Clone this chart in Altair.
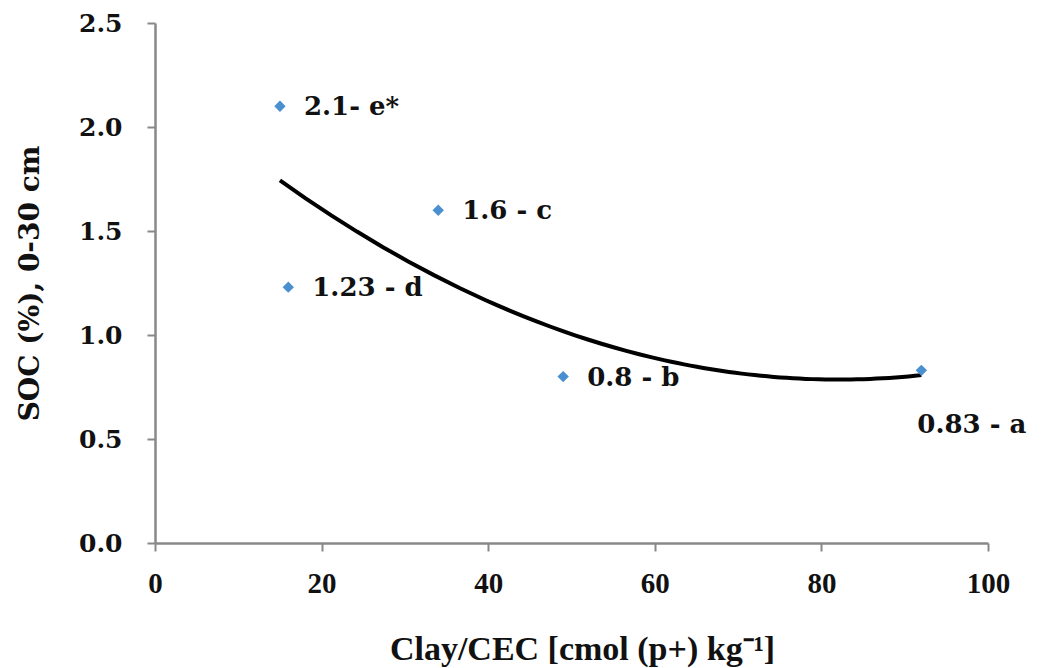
import altair as alt
import pandas as pd

clay_cec = [15, 34, 16, 49, 92]
soc = [2.1, 1.6, 1.23, 0.8, 0.83]
labels = ["2.1- e*", "1.6 - c", "1.23 - d", "0.8 - b", "0.83 - a"]
x_ticks = [0, 20, 40, 60, 80, 100]
y_ticks = [0.0, 0.5, 1.0, 1.5, 2.0, 2.5]

df = pd.DataFrame({"x": clay_cec, "y": soc, "label": labels})

serif_wide = "DejaVu Serif"
serif_tnr = "Liberation Serif"

xscale = alt.Scale(domain=[0, 100], nice=False, zero=True)
yscale = alt.Scale(domain=[0, 2.5], nice=False, zero=True)

x_enc = alt.X("x:Q", scale=xscale, axis=alt.Axis(
    values=x_ticks, grid=False, title="Clay/CEC [cmol (p+) kg⁻¹]",
    labelFont=serif_tnr, labelFontSize=29, labelFontWeight="bold", labelColor="#111",
    labelFlush=False, labelOverlap=False,
    titleFont=serif_tnr, titleFontSize=34, titleFontWeight="bold", titleColor="#111",
    titlePadding=34, titleX=427, labelPadding=18, tickSize=8, tickWidth=2, tickColor="#888",
    domainColor="#888", domainWidth=2.5, format="d"))
y_enc = alt.Y("y:Q", scale=yscale, axis=alt.Axis(
    values=y_ticks, grid=False, title="SOC  (%), 0-30 cm",
    labelFont=serif_wide, labelFontSize=25, labelFontWeight="bold", labelColor="#111",
    labelFlush=False, labelOverlap=False,
    titleFont=serif_wide, titleFontSize=28, titleFontWeight="bold", titleColor="#111",
    titlePadding=34, labelPadding=25, tickSize=8, tickWidth=2, tickColor="#888",
    domainColor="#888", domainWidth=2.5, format=".1f"))

base = alt.Chart(df)

points = base.mark_point(shape="diamond", filled=True, size=130, color="#4a90d0", opacity=1).encode(
    x=x_enc, y=y_enc)

trend = base.transform_regression("x", "y", method="poly", order=2).mark_line(
    color="#000", strokeWidth=4).encode(x="x:Q", y="y:Q")

text_main = base.transform_filter(alt.datum.label != "0.83 - a").mark_text(
    align="left", baseline="middle", dx=24, dy=1, font=serif_wide, fontSize=26,
    fontWeight="bold", color="#111").encode(x="x:Q", y="y:Q", text="label:N")

text_a = base.transform_filter(alt.datum.label == "0.83 - a").mark_text(
    align="left", baseline="middle", dx=-4, dy=55, font=serif_wide, fontSize=26,
    fontWeight="bold", color="#111").encode(x="x:Q", y="y:Q", text="label:N")

chart = alt.layer(trend, points, text_main, text_a).properties(
    width=833, height=520,
    autosize=alt.AutoSizeParams(type="none"),
    padding={"left": 155, "top": 23, "right": 67, "bottom": 125},
).configure(background="white").configure_view(stroke=None)

chart.save("out.html", embed_options={"renderer": "svg", "actions": False})
